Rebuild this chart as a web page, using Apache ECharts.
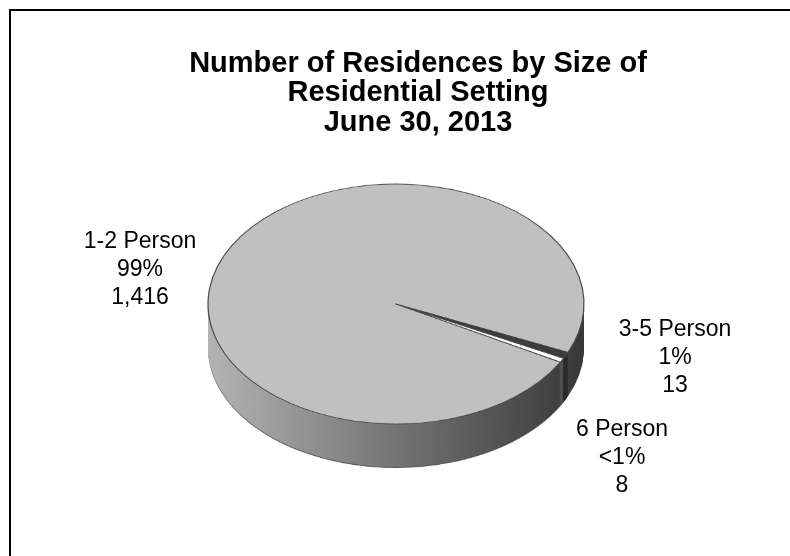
<!DOCTYPE html>
<html>
<head>
<meta charset="utf-8">
<title>Number of Residences by Size of Residential Setting</title>
<script src="https://cdn.jsdelivr.net/npm/echarts@6/dist/echarts.min.js"></script>
<style>
  html, body { margin: 0; padding: 0; background: #fff; }
  .stage { position: relative; width: 790px; height: 556px; overflow: hidden; }
  /* the pie layer is squashed vertically to give the tilted 3D look */
  #pie { position: absolute; left: 0; top: 0; width: 790px; height: 800px;
         transform: scaleY(0.638); transform-origin: 0 304px; }
  #text { position: absolute; left: 0; top: 0; width: 790px; height: 556px; }
</style>
</head>
<body>
<div class="stage">
  <div id="pie"></div>
  <div id="text"></div>
</div>
<script>
// data
const categories = ['1-2 Person', '3-5 Person', '6 Person'];
const counts = [1416, 13, 8];
const pctLabels = ['99%', '1%', '<1%'];
const titleLines = ['Number of Residences by Size of', 'Residential Setting', 'June 30, 2013'];

// look
const FONT = '"Liberation Sans", Arial, sans-serif';
const squash = 0.638;          // same as the css scaleY
const cx = 396, cy = 304, r = 188;
const depth = 43 / squash;     // side height in unscaled pixels
const layers = 30;
const topColors = ['#c0c0c0', '#3c3c3c', '#ffffff'];
const startAngle = 331;

const sideGradient = new echarts.graphic.LinearGradient(cx - r, 0, cx + r, 0, [
  { offset: 0, color: '#b4b4b4' },
  { offset: 0.45, color: '#7a7a7a' },
  { offset: 1, color: '#383838' }
], true);
const sideColors = [sideGradient, '#2a2a2a', '#505050'];

function pieLayer(offset, colors, isTop) {
  return {
    type: 'pie',
    silent: true,
    animation: false,
    startAngle: startAngle,
    clockwise: true,
    center: [cx, cy + offset],
    radius: r,
    label: { show: false },
    labelLine: { show: false },
    itemStyle: isTop ? { borderColor: '#4a4a4a', borderWidth: 1.2 } : { borderWidth: 0 },
    data: categories.map((name, i) => ({
      name: name,
      value: counts[i],
      itemStyle: { color: colors[i] }
    }))
  };
}

// side first (bottom-most layer first), top face last
const series = [];
for (let i = layers; i >= 1; i--) {
  series.push(pieLayer(depth * i / layers, sideColors, false));
}
// thin dark rim along the bottom edge
series.unshift(pieLayer(depth + 1.5, ['#555', '#222', '#333'], false));
series.push(pieLayer(0, topColors, true));

const pieChart = echarts.init(document.getElementById('pie'), null, { renderer: 'canvas' });
pieChart.setOption({ backgroundColor: 'transparent', series: series });

// labels and title on an unsquashed layer
const labelPos = [[140, 270], [675, 358], [622, 458]];
const labelGraphics = categories.map((name, i) => ({
  type: 'text',
  x: labelPos[i][0],
  y: labelPos[i][1],
  style: {
    text: [name, pctLabels[i], counts[i].toLocaleString('en-US')].join('\n'),
    align: 'center',
    verticalAlign: 'middle',
    font: '23px ' + FONT,
    lineHeight: 28,
    fill: '#000'
  }
}));

const textChart = echarts.init(document.getElementById('text'), null, { renderer: 'canvas' });
textChart.setOption({
  backgroundColor: 'transparent',
  graphic: [
    {
      type: 'rect',
      shape: { x: 10, y: 10, width: 800, height: 560 },
      style: { fill: 'none', stroke: '#000', lineWidth: 2 }
    },
    {
      type: 'text',
      x: 418,
      y: 93,
      style: {
        text: titleLines.join('\n'),
        align: 'center',
        verticalAlign: 'middle',
        font: 'bold 29px ' + FONT,
        lineHeight: 29.5,
        fill: '#000'
      }
    }
  ].concat(labelGraphics)
});
</script>
</body>
</html>
